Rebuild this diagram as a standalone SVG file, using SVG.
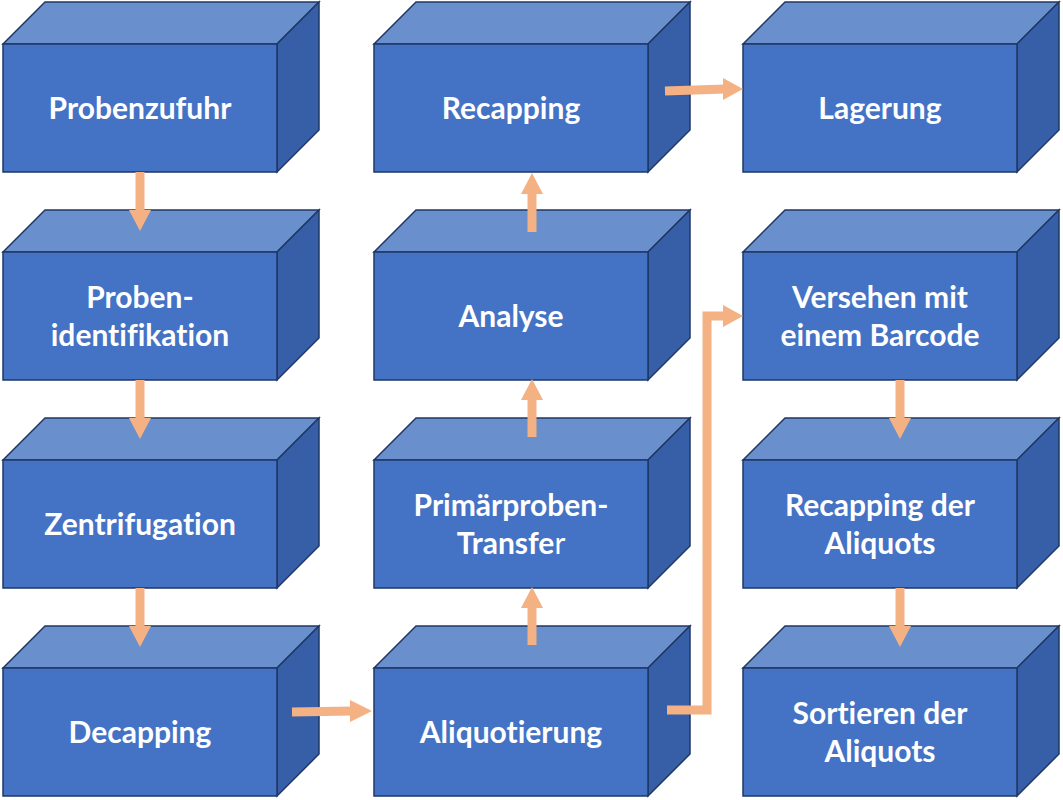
<svg xmlns="http://www.w3.org/2000/svg" width="1063" height="800" viewBox="0 0 1063 800">
<defs>
<style>
.front{fill:#4472C4;stroke:#1F3864;stroke-width:1.5}
.top{fill:#6A8FCD;stroke:#1F3864;stroke-width:1.5}
.side{fill:#365FA8;stroke:#1F3864;stroke-width:1.5}
.lbl{font-family:Lato,"Open Sans",sans-serif;font-weight:bold;font-size:30px;fill:#FFFFFF;text-anchor:middle;font-variant-ligatures:none}
.ln{fill:none;stroke:#F4B183;stroke-width:9}
.hd{fill:#F4B183}
</style>
<g id="box">
<path class="top" d="M0,0 L42,-42 L316,-42 L274,0 Z"/>
<path class="side" d="M274,0 L316,-42 L316,86 L274,128 Z"/>
<rect class="front" x="0" y="0" width="274" height="128"/>
</g>
</defs>
<g id="n1"><use href="#box" x="3" y="44"/><text class="lbl" x="140" y="119">Probenzufuhr</text></g>
<g id="n2"><use href="#box" x="3" y="252"/><text class="lbl" x="140" y="308">Proben-</text><text class="lbl" x="140" y="346">identifikation</text></g>
<g id="n3"><use href="#box" x="3" y="460"/><text class="lbl" x="140" y="535">Zentrifugation</text></g>
<g id="n4"><use href="#box" x="3" y="668"/><text class="lbl" x="140" y="743">Decapping</text></g>
<g id="n5"><use href="#box" x="374" y="668"/><text class="lbl" x="511" y="743">Aliquotierung</text></g>
<g id="n6"><use href="#box" x="374" y="460"/><text class="lbl" x="511" y="516">Primärproben-</text><text class="lbl" x="511" y="554">Transfe<tspan font-weight="normal">r</tspan></text></g>
<g id="n7"><use href="#box" x="374" y="252"/><text class="lbl" x="511" y="327">Analyse</text></g>
<g id="n8"><use href="#box" x="374" y="44"/><text class="lbl" x="511" y="119">Recapping</text></g>
<g id="n9"><use href="#box" x="743" y="44"/><text class="lbl" x="880" y="119">Lagerung</text></g>
<g id="n10"><use href="#box" x="743" y="252"/><text class="lbl" x="880" y="308">Versehen mit</text><text class="lbl" x="880" y="346">einem Barcode</text></g>
<g id="n11"><use href="#box" x="743" y="460"/><text class="lbl" x="880" y="516">Recapping der</text><text class="lbl" x="880" y="554">Aliquots</text></g>
<g id="n12"><use href="#box" x="743" y="668"/><text class="lbl" x="880" y="724">Sortieren der</text><text class="lbl" x="880" y="762">Aliquots</text></g>
<g id="connectors">
<line class="ln" x1="140" y1="172" x2="140" y2="212"/><polygon class="hd" points="129,210 151,210 140,231"/>
<line class="ln" x1="140" y1="380" x2="140" y2="420"/><polygon class="hd" points="129,418 151,418 140,439"/>
<line class="ln" x1="140" y1="588" x2="140" y2="628"/><polygon class="hd" points="129,626 151,626 140,647"/>
<line class="ln" x1="292" y1="712" x2="352" y2="711"/><polygon class="hd" points="350,700 350,722 372,711"/>
<line class="ln" x1="532" y1="645" x2="532" y2="606"/><polygon class="hd" points="521,608 543,608 532,587"/>
<line class="ln" x1="532" y1="437" x2="532" y2="398"/><polygon class="hd" points="521,400 543,400 532,379"/>
<line class="ln" x1="532" y1="232" x2="532" y2="192"/><polygon class="hd" points="521,194 543,194 532,173"/>
<line class="ln" x1="665" y1="91" x2="725" y2="89"/><polygon class="hd" points="723,78 723,100 743,89"/>
<polyline class="ln" points="667,710 707,710 707,316 725,316"/><polygon class="hd" points="723,305 723,327 743,316"/>
<line class="ln" x1="900" y1="380" x2="900" y2="420"/><polygon class="hd" points="889,418 911,418 900,439"/>
<line class="ln" x1="900" y1="588" x2="900" y2="628"/><polygon class="hd" points="889,626 911,626 900,647"/>
</g>
</svg>
